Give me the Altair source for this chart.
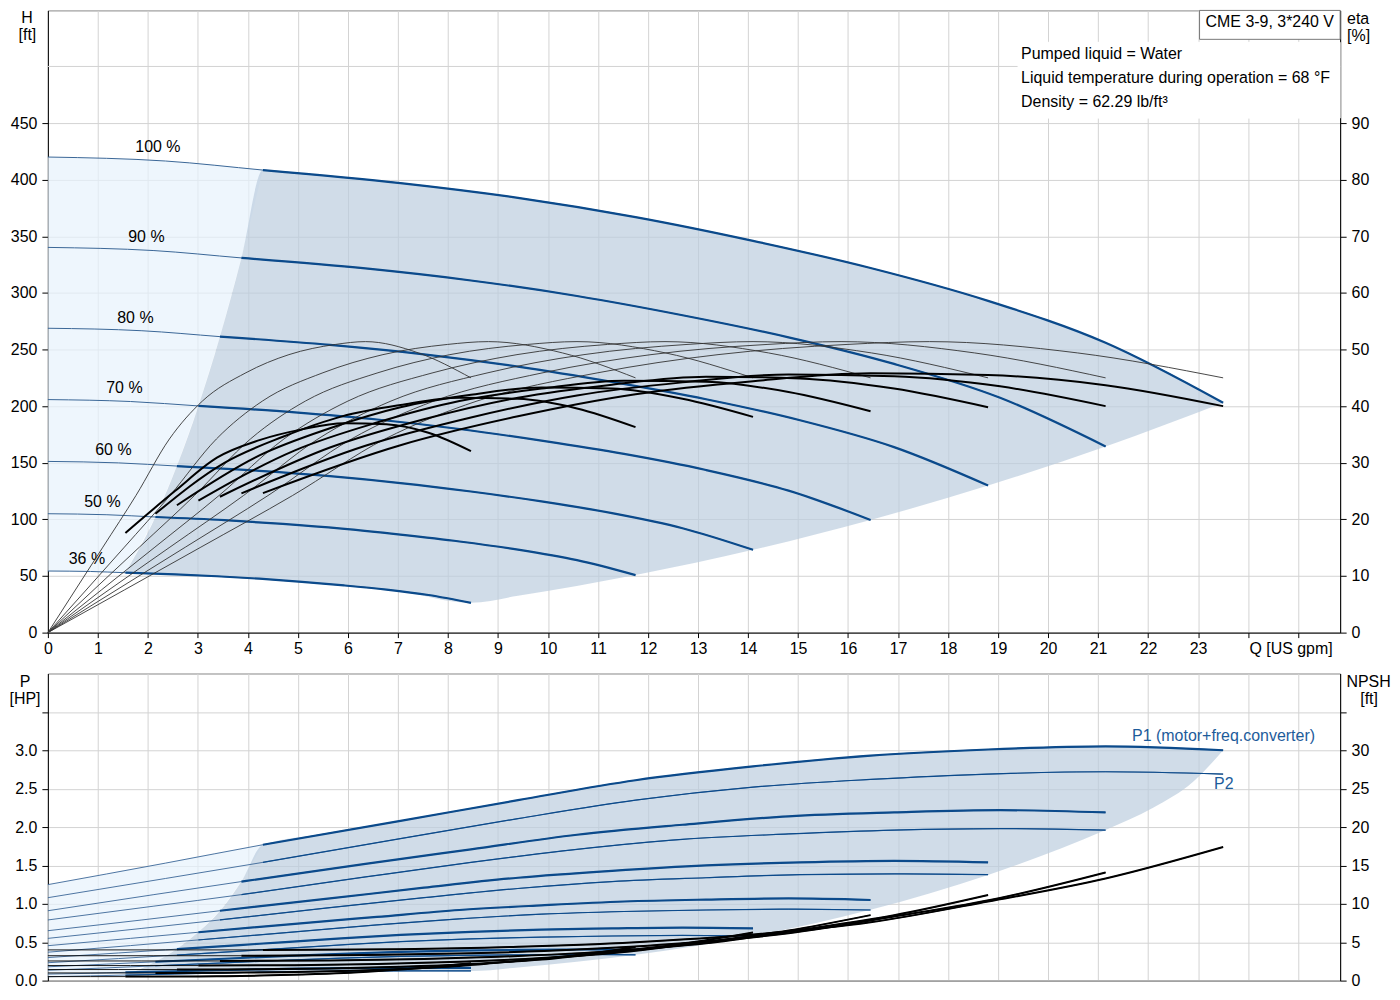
import altair as alt
import pandas as pd

# ---------------- data ----------------
SPEEDS = ["100", "90", "80", "70", "60", "50", "36"]
SPEED_TEXT = ["100 %", "90 %", "80 %", "70 %", "60 %", "50 %", "36 %"]
SPEED_TEXT_Q = [2.20, 1.97, 1.75, 1.53, 1.31, 1.09, 0.78]
SPEED_TEXT_H = [424.7, 344.6, 273.6, 211.3, 156.7, 110.7, 60.5]

# flow points (US gpm) along each speed curve; index 2 = start of operating range
Q_CURVE = {
    "100": [0, 2.35, 4.3, 7.05, 9.4, 11.75, 14.1, 16.45, 18.8, 21.15, 23.5],
    "90": [0, 2.12, 3.87, 6.35, 8.46, 10.58, 12.69, 14.81, 16.92, 19.04, 21.15],
    "80": [0, 1.88, 3.44, 5.64, 7.52, 9.4, 11.28, 13.16, 15.04, 16.92, 18.8],
    "70": [0, 1.65, 3.01, 4.94, 6.58, 8.23, 9.87, 11.52, 13.16, 14.81, 16.45],
    "60": [0, 1.41, 2.58, 4.23, 5.64, 7.05, 8.46, 9.87, 11.28, 12.69, 14.1],
    "50": [0, 1.18, 2.15, 3.53, 4.7, 5.88, 7.05, 8.23, 9.4, 10.58, 11.75],
    "36": [0, 0.85, 1.55, 2.54, 3.38, 4.23, 5.08, 5.92, 6.77, 7.61, 8.46],
}
H_CURVE = {
    "100": [420, 416.5, 408.5, 397, 384, 367, 346, 322, 293, 256, 203],
    "90": [340.2, 337.4, 330.9, 321.6, 311.0, 297.3, 280.3, 260.8, 237.3, 207.4, 164.4],
    "80": [268.8, 266.6, 261.4, 254.1, 245.8, 234.9, 221.4, 206.1, 187.5, 163.8, 129.9],
    "70": [205.8, 204.1, 200.2, 194.5, 188.2, 179.8, 169.5, 157.8, 143.6, 125.4, 99.5],
    "60": [151.2, 149.9, 147.1, 142.9, 138.2, 132.1, 124.6, 115.9, 105.5, 92.2, 73.1],
    "50": [105, 104.1, 102.1, 99.3, 96, 91.8, 86.5, 80.5, 73.3, 64, 50.8],
    "36": [54.4, 54.0, 52.9, 51.5, 49.8, 47.6, 44.8, 41.7, 38.0, 33.2, 26.3],
}
P1_CURVE = {
    "100": [1.25, 1.53, 1.77, 2.08, 2.35, 2.61, 2.79, 2.93, 3.01, 3.05, 3.0],
    "90": [0.91, 1.12, 1.29, 1.52, 1.71, 1.9, 2.03, 2.14, 2.19, 2.22, 2.19],
    "80": [0.65, 0.79, 0.91, 1.07, 1.21, 1.34, 1.43, 1.5, 1.54, 1.56, 1.54],
    "70": [0.455, 0.55, 0.63, 0.74, 0.83, 0.92, 0.98, 1.03, 1.055, 1.07, 1.05],
    "60": [0.3, 0.36, 0.41, 0.48, 0.54, 0.595, 0.635, 0.665, 0.68, 0.69, 0.68],
    "50": [0.18, 0.215, 0.245, 0.285, 0.32, 0.35, 0.375, 0.39, 0.4, 0.405, 0.4],
    "36": [0.085, 0.095, 0.108, 0.122, 0.135, 0.147, 0.155, 0.162, 0.165, 0.167, 0.165],
}
P2_CURVE = {
    "100": [1.08, 1.33, 1.54, 1.85, 2.11, 2.35, 2.52, 2.62, 2.69, 2.72, 2.69],
    "90": [0.79, 0.97, 1.12, 1.35, 1.54, 1.71, 1.84, 1.91, 1.96, 1.98, 1.96],
    "80": [0.55, 0.68, 0.79, 0.95, 1.08, 1.2, 1.29, 1.34, 1.38, 1.39, 1.38],
    "70": [0.37, 0.456, 0.53, 0.635, 0.725, 0.805, 0.865, 0.9, 0.92, 0.93, 0.92],
    "60": [0.233, 0.287, 0.333, 0.4, 0.456, 0.508, 0.544, 0.566, 0.581, 0.588, 0.581],
    "50": [0.135, 0.166, 0.193, 0.231, 0.264, 0.294, 0.315, 0.328, 0.336, 0.34, 0.336],
    "36": [0.05, 0.062, 0.072, 0.086, 0.098, 0.11, 0.118, 0.122, 0.126, 0.127, 0.126],
}
NPSH_CURVE = {
    "100": [4.0, 4.0, 4.0, 4.1, 4.4, 5.0, 6.0, 7.6, 10.3, 13.3, 17.4],
    "90": [3.24, 3.24, 3.24, 3.32, 3.56, 4.05, 4.86, 6.16, 8.34, 10.77, 14.09],
    "80": [2.56, 2.56, 2.56, 2.62, 2.82, 3.2, 3.84, 4.86, 6.59, 8.51, 11.14],
    "70": [1.96, 1.96, 1.96, 2.01, 2.16, 2.45, 2.94, 3.72, 5.05, 6.52, 8.53],
    "60": [1.44, 1.44, 1.44, 1.48, 1.58, 1.8, 2.16, 2.74, 3.71, 4.79, 6.26],
    "50": [1.0, 1.0, 1.0, 1.03, 1.1, 1.25, 1.5, 1.9, 2.58, 3.33, 4.35],
    "36": [0.52, 0.52, 0.52, 0.53, 0.57, 0.65, 0.78, 0.98, 1.33, 1.72, 2.25],
}
# total efficiency (thick black), values at Q_CURVE[speed][2:]
ETA_TOTAL = {
    "100": [24.65, 33.1, 38.2, 42.1, 44.4, 45.8, 45.5, 43.7, 40.0],
    "90": [24.6, 33.0, 38.0, 41.9, 44.2, 45.6, 45.3, 43.5, 40.0],
    "80": [24.0, 32.7, 37.7, 41.5, 43.8, 45.2, 44.9, 43.1, 39.8],
    "70": [23.3, 32.2, 37.1, 40.9, 43.1, 44.5, 44.3, 42.5, 39.1],
    "60": [22.5, 31.3, 36.1, 39.8, 42.0, 43.3, 43.1, 41.3, 38.1],
    "50": [21.0, 30.0, 34.6, 38.2, 40.2, 41.5, 41.3, 39.6, 36.3],
    "36": [17.6, 25.0, 30.9, 34.0, 35.9, 37.0, 36.8, 35.3, 32.05],
}
# pump efficiency (thin black), from Q = 0
Q_ETA_PUMP = {
    "100": [0, 3.06, 4.89, 6.74, 8.58, 11.0, 13.4, 15.98, 17.63, 20.59, 23.5],
    "90": [0, 2.75, 4.4, 6.07, 7.72, 9.9, 12.06, 14.38, 15.86, 18.53, 21.15],
    "80": [0, 2.44, 3.91, 5.4, 6.86, 8.8, 10.72, 12.78, 14.1, 16.47, 18.8],
    "70": [0, 2.14, 3.42, 4.72, 6.0, 7.7, 9.38, 11.19, 12.34, 14.41, 16.45],
    "60": [0, 1.83, 2.93, 4.05, 5.15, 6.6, 8.04, 9.59, 10.58, 12.35, 14.1],
    "50": [0, 1.53, 2.44, 3.37, 4.29, 5.5, 6.7, 7.99, 8.81, 10.29, 11.75],
    "36": [0, 1.1, 1.76, 2.43, 3.09, 3.96, 4.82, 5.75, 6.35, 7.41, 8.46],
}
ETA_PUMP = [0, 15.1, 24.2, 34.2, 40.9, 45.9, 49.1, 50.9, 51.4, 49.4, 45.0]

# shaded ranges, head panel
LIGHT_H_Q = [0, 0.85, 1.55, 2.15, 2.58, 3.01, 3.44, 3.87, 4.3]
LIGHT_H_TOP = [420, 419, 418.2, 417, 415.7, 414.4, 412.6, 410.7, 408.5]
LIGHT_H_BOT = [54.4, 54, 52.9, 102.1, 147.1, 200.2, 261.4, 330.9, 408.5]
DARK_H_Q = [1.55, 2.15, 2.58, 3.01, 3.44, 3.87, 4.3, 5.64, 7.05, 8.46, 9.4, 11.75, 14.1, 16.45, 18.8, 21.15, 23.5]
DARK_H_TOP = [52.9, 102.1, 147.1, 200.2, 261.4, 330.9, 408.5, 402.9, 397, 389.2, 384, 367, 346, 322, 293, 256, 203]
DARK_H_BOT = [52.9, 52.0, 51.4, 50.5, 49.6, 48.5, 47.3, 42.8, 36.4, 26.3, 32.5, 50.8, 73.1, 99.5, 129.9, 164.4, 203]

# shaded ranges, power panel
LIGHT_P_Q = [0, 0.85, 1.55, 2.15, 2.58, 3.01, 3.44, 3.87, 4.3]
LIGHT_P_TOP = [1.25, 1.35, 1.44, 1.51, 1.56, 1.62, 1.67, 1.72, 1.77]
LIGHT_P_BOT = [0.05, 0.062, 0.072, 0.246, 0.412, 0.632, 0.906, 1.29, 1.77]
DARK_P_Q = [1.55, 2.15, 2.58, 3.01, 3.44, 3.87, 4.3, 5.64, 7.05, 8.46, 9.4, 11.75, 14.1, 16.45, 18.8, 21.15, 22.1, 22.9, 23.5]
DARK_P_TOP = [0.072, 0.246, 0.412, 0.632, 0.906, 1.29, 1.77, 1.92, 2.08, 2.24, 2.35, 2.61, 2.79, 2.93, 3.01, 3.05, 3.04, 3.02, 3.0]
DARK_P_BOT = [0.072, 0.081, 0.087, 0.092, 0.099, 0.105, 0.111, 0.12, 0.126, 0.126, 0.172, 0.336, 0.581, 0.923, 1.377, 1.961, 2.25, 2.59, 3.0]

INFO_LINES = ["Pumped liquid = Water", "Liquid temperature during operation = 68 °F", "Density = 62.29 lb/ft³"]
MODEL = "CME 3-9, 3*240 V"

# ---------------- styling ----------------
FONT = "Liberation Sans"
GRID = "#d3d3d3"
BLUE = "#0b4a8b"
BLUE_THIN = "#3a6697"
LABEL_BLUE = "#1d5c9b"
LIGHT_FILL = "#e7f2fc"
DARK_FILL = "#bccdde"
W = 1296
H_TOP = 624
H_BOT = 308


def curve_frame(qdict, vdict, first=0):
    recs = []
    for s in SPEEDS:
        qs = qdict[s][first:]
        vs = vdict[s] if len(vdict[s]) == len(qs) else vdict[s][first:]
        recs += [{"speed": s, "q": q, "v": v} for q, v in zip(qs, vs)]
    return pd.DataFrame(recs)


ONE = pd.DataFrame({"k": [0]})

x_scale = alt.Scale(domain=[0, 25.84], nice=False, zero=False)
X_TOP = alt.X("q:Q", scale=x_scale, title=None, axis=alt.Axis(
    values=list(range(0, 26)), labelExpr="datum.value <= 23 ? datum.label : ''",
    grid=True, gridColor=GRID, tickSize=5, tickColor="#000", domainColor="#000",
    labelColor="#000", labelFontSize=16, labelPadding=3, labelFlush=False,
    labelOverlap=False, title=None))
X_BOT = alt.X("q:Q", scale=x_scale, title=None, axis=alt.Axis(
    values=list(range(0, 26)), labels=False, ticks=False, grid=True,
    gridColor=GRID, domainColor="#888", title=None))

Y_H = alt.Y("v:Q", scale=alt.Scale(domain=[0, 549.5], nice=False, zero=False), title=None,
            axis=alt.Axis(values=list(range(0, 451, 50)), grid=True, gridColor=GRID,
                          tickSize=6, tickColor="#000", domainColor="#000", labelColor="#000",
                          labelFontSize=16, labelPadding=5, title=None))
Y_ETA = alt.Y("v:Q", scale=alt.Scale(domain=[0, 109.9], nice=False, zero=False), title=None,
              axis=alt.Axis(orient="right", values=list(range(0, 91, 10)), grid=False,
                            tickSize=6, tickColor="#000", domainColor="#000", labelColor="#000",
                            labelFontSize=16, labelPadding=5, title=None))
Y_P = alt.Y("v:Q", scale=alt.Scale(domain=[0, 4.0], nice=False, zero=False), title=None,
            axis=alt.Axis(values=[0, 0.5, 1, 1.5, 2, 2.5, 3, 3.5],
                          labelExpr="datum.value > 3.2 ? '' : format(datum.value, '.1f')",
                          grid=True, gridColor=GRID, tickSize=6, tickColor="#000",
                          domainColor="#000", labelColor="#000", labelFontSize=16,
                          labelPadding=5, title=None))
Y_NPSH = alt.Y("v:Q", scale=alt.Scale(domain=[0, 40.0], nice=False, zero=False), title=None,
               axis=alt.Axis(orient="right", values=list(range(0, 36, 5)),
                             labelExpr="datum.value > 32 ? '' : datum.label", grid=False,
                             tickSize=6, tickColor="#000", domainColor="#000",
                             labelColor="#000", labelFontSize=16, labelPadding=5, title=None))


def line_layer(df, x, y, color, width):
    return alt.Chart(df).mark_line(color=color, strokeWidth=width, interpolate="monotone").encode(
        x=x, y=y, detail="speed:N")


def area_layer(qs, top, bot, x, y, fill, interp):
    df = pd.DataFrame({"q": qs, "v": top, "b": bot})
    return alt.Chart(df).mark_area(color=fill, opacity=0.7, interpolate=interp).encode(
        x=x, y=y, y2=alt.Y2("b:Q"))


def ptext(txt, px, py, align="left", color="#000"):
    return alt.Chart(ONE).mark_text(text=txt, align=align, baseline="alphabetic",
                                    fontSize=16, color=color, font=FONT).encode(
        x=alt.value(px), y=alt.value(py))


# ---------------- top panel ----------------
qh_full = curve_frame(Q_CURVE, H_CURVE)
qh_thick = curve_frame(Q_CURVE, H_CURVE, first=2)
eta_pump = curve_frame(Q_ETA_PUMP, {s: ETA_PUMP for s in SPEEDS})
eta_total = curve_frame(Q_CURVE, ETA_TOTAL, first=2)
speed_labels = pd.DataFrame({"q": SPEED_TEXT_Q, "v": SPEED_TEXT_H, "t": SPEED_TEXT})

top_left = alt.layer(
    area_layer(LIGHT_H_Q, LIGHT_H_TOP, LIGHT_H_BOT, X_TOP, Y_H, LIGHT_FILL, "linear"),
    area_layer(DARK_H_Q, DARK_H_TOP, DARK_H_BOT, X_TOP, Y_H, DARK_FILL, "monotone"),
    alt.Chart(ONE).mark_rule(color=GRID, strokeWidth=1).encode(
        x=alt.value(0), x2=alt.value(W), y=alt.value(H_TOP - 500 * H_TOP / 549.5)),
    line_layer(qh_full, X_TOP, Y_H, BLUE_THIN, 1.0),
    line_layer(qh_thick, X_TOP, Y_H, BLUE, 2.2),
    alt.Chart(speed_labels).mark_text(align="center", baseline="alphabetic", fontSize=16,
                                      color="#000", font=FONT).encode(x=X_TOP, y=Y_H, text="t:N"),
    alt.Chart(ONE).mark_rect(fill="white", stroke="white").encode(
        x=alt.value(973), x2=alt.value(W), y=alt.value(32), y2=alt.value(108)),
    alt.Chart(ONE).mark_rect(fill="white", stroke="#777", strokeWidth=1).encode(
        x=alt.value(1155), x2=alt.value(W), y=alt.value(0), y2=alt.value(29)),
    ptext(MODEL, 1161, 16.5),
    ptext(INFO_LINES[0], 976, 49),
    ptext(INFO_LINES[1], 976, 73),
    ptext(INFO_LINES[2], 976, 97),
    ptext("Q [US gpm]", 1205, 645),
    ptext("H", -21, 12.7, align="center"),
    ptext("[ft]", -20.5, 30, align="center"),
    ptext("eta", 1314, 13.3, align="center"),
    ptext("[%]", 1314.5, 30.5, align="center"),
)
top_right = alt.layer(
    line_layer(eta_pump, X_TOP, Y_ETA, "#333", 0.9),
    line_layer(eta_total, X_TOP, Y_ETA, "#000", 2.0),
)
top = alt.layer(top_left, top_right).resolve_scale(y="independent").properties(width=W, height=H_TOP)

# ---------------- bottom panel ----------------
p1_full = curve_frame(Q_CURVE, P1_CURVE)
p1_thick = curve_frame(Q_CURVE, P1_CURVE, first=2)
p2_full = curve_frame(Q_CURVE, P2_CURVE)
p2_right = curve_frame(Q_CURVE, P2_CURVE, first=2)
npsh_full = curve_frame(Q_CURVE, NPSH_CURVE)
npsh_thick = curve_frame(Q_CURVE, NPSH_CURVE, first=2)

p_labels = pd.DataFrame({"q": [21.68, 23.32], "v": [3.12, 2.495], "t": ["P1 (motor+freq.converter)", "P2"]})

bot_left = alt.layer(
    area_layer(LIGHT_P_Q, LIGHT_P_TOP, LIGHT_P_BOT, X_BOT, Y_P, LIGHT_FILL, "linear"),
    area_layer(DARK_P_Q, DARK_P_TOP, DARK_P_BOT, X_BOT, Y_P, DARK_FILL, "monotone"),
    line_layer(p2_full, X_BOT, Y_P, BLUE_THIN, 0.9),
    line_layer(p1_full, X_BOT, Y_P, BLUE_THIN, 0.9),
    line_layer(p2_right, X_BOT, Y_P, BLUE, 1.2),
    line_layer(p1_thick, X_BOT, Y_P, BLUE, 2.2),
    alt.Chart(p_labels).mark_text(align="left", baseline="alphabetic", fontSize=16,
                                  color=LABEL_BLUE, font=FONT).encode(x=X_BOT, y=Y_P, text="t:N"),
    ptext("P", -23, 13.3, align="center"),
    ptext("[HP]", -23, 30.5, align="center"),
    ptext("NPSH", 1324.5, 13.3, align="center"),
    ptext("[ft]", 1325, 30.5, align="center"),
)
bot_right = alt.layer(
    line_layer(npsh_full, X_BOT, Y_NPSH, "#000", 0.9),
    line_layer(npsh_thick, X_BOT, Y_NPSH, "#000", 2.0),
)
bottom = alt.layer(bot_left, bot_right).resolve_scale(y="independent").properties(width=W, height=H_BOT)

chart = alt.vconcat(top, bottom, spacing=15).properties(
    padding={"left": 0, "top": 0, "right": 0, "bottom": 0}
).configure(font=FONT).configure_view(stroke="#888", strokeWidth=1)

chart.save("out.html", embed_options={"renderer": "svg", "actions": False})
